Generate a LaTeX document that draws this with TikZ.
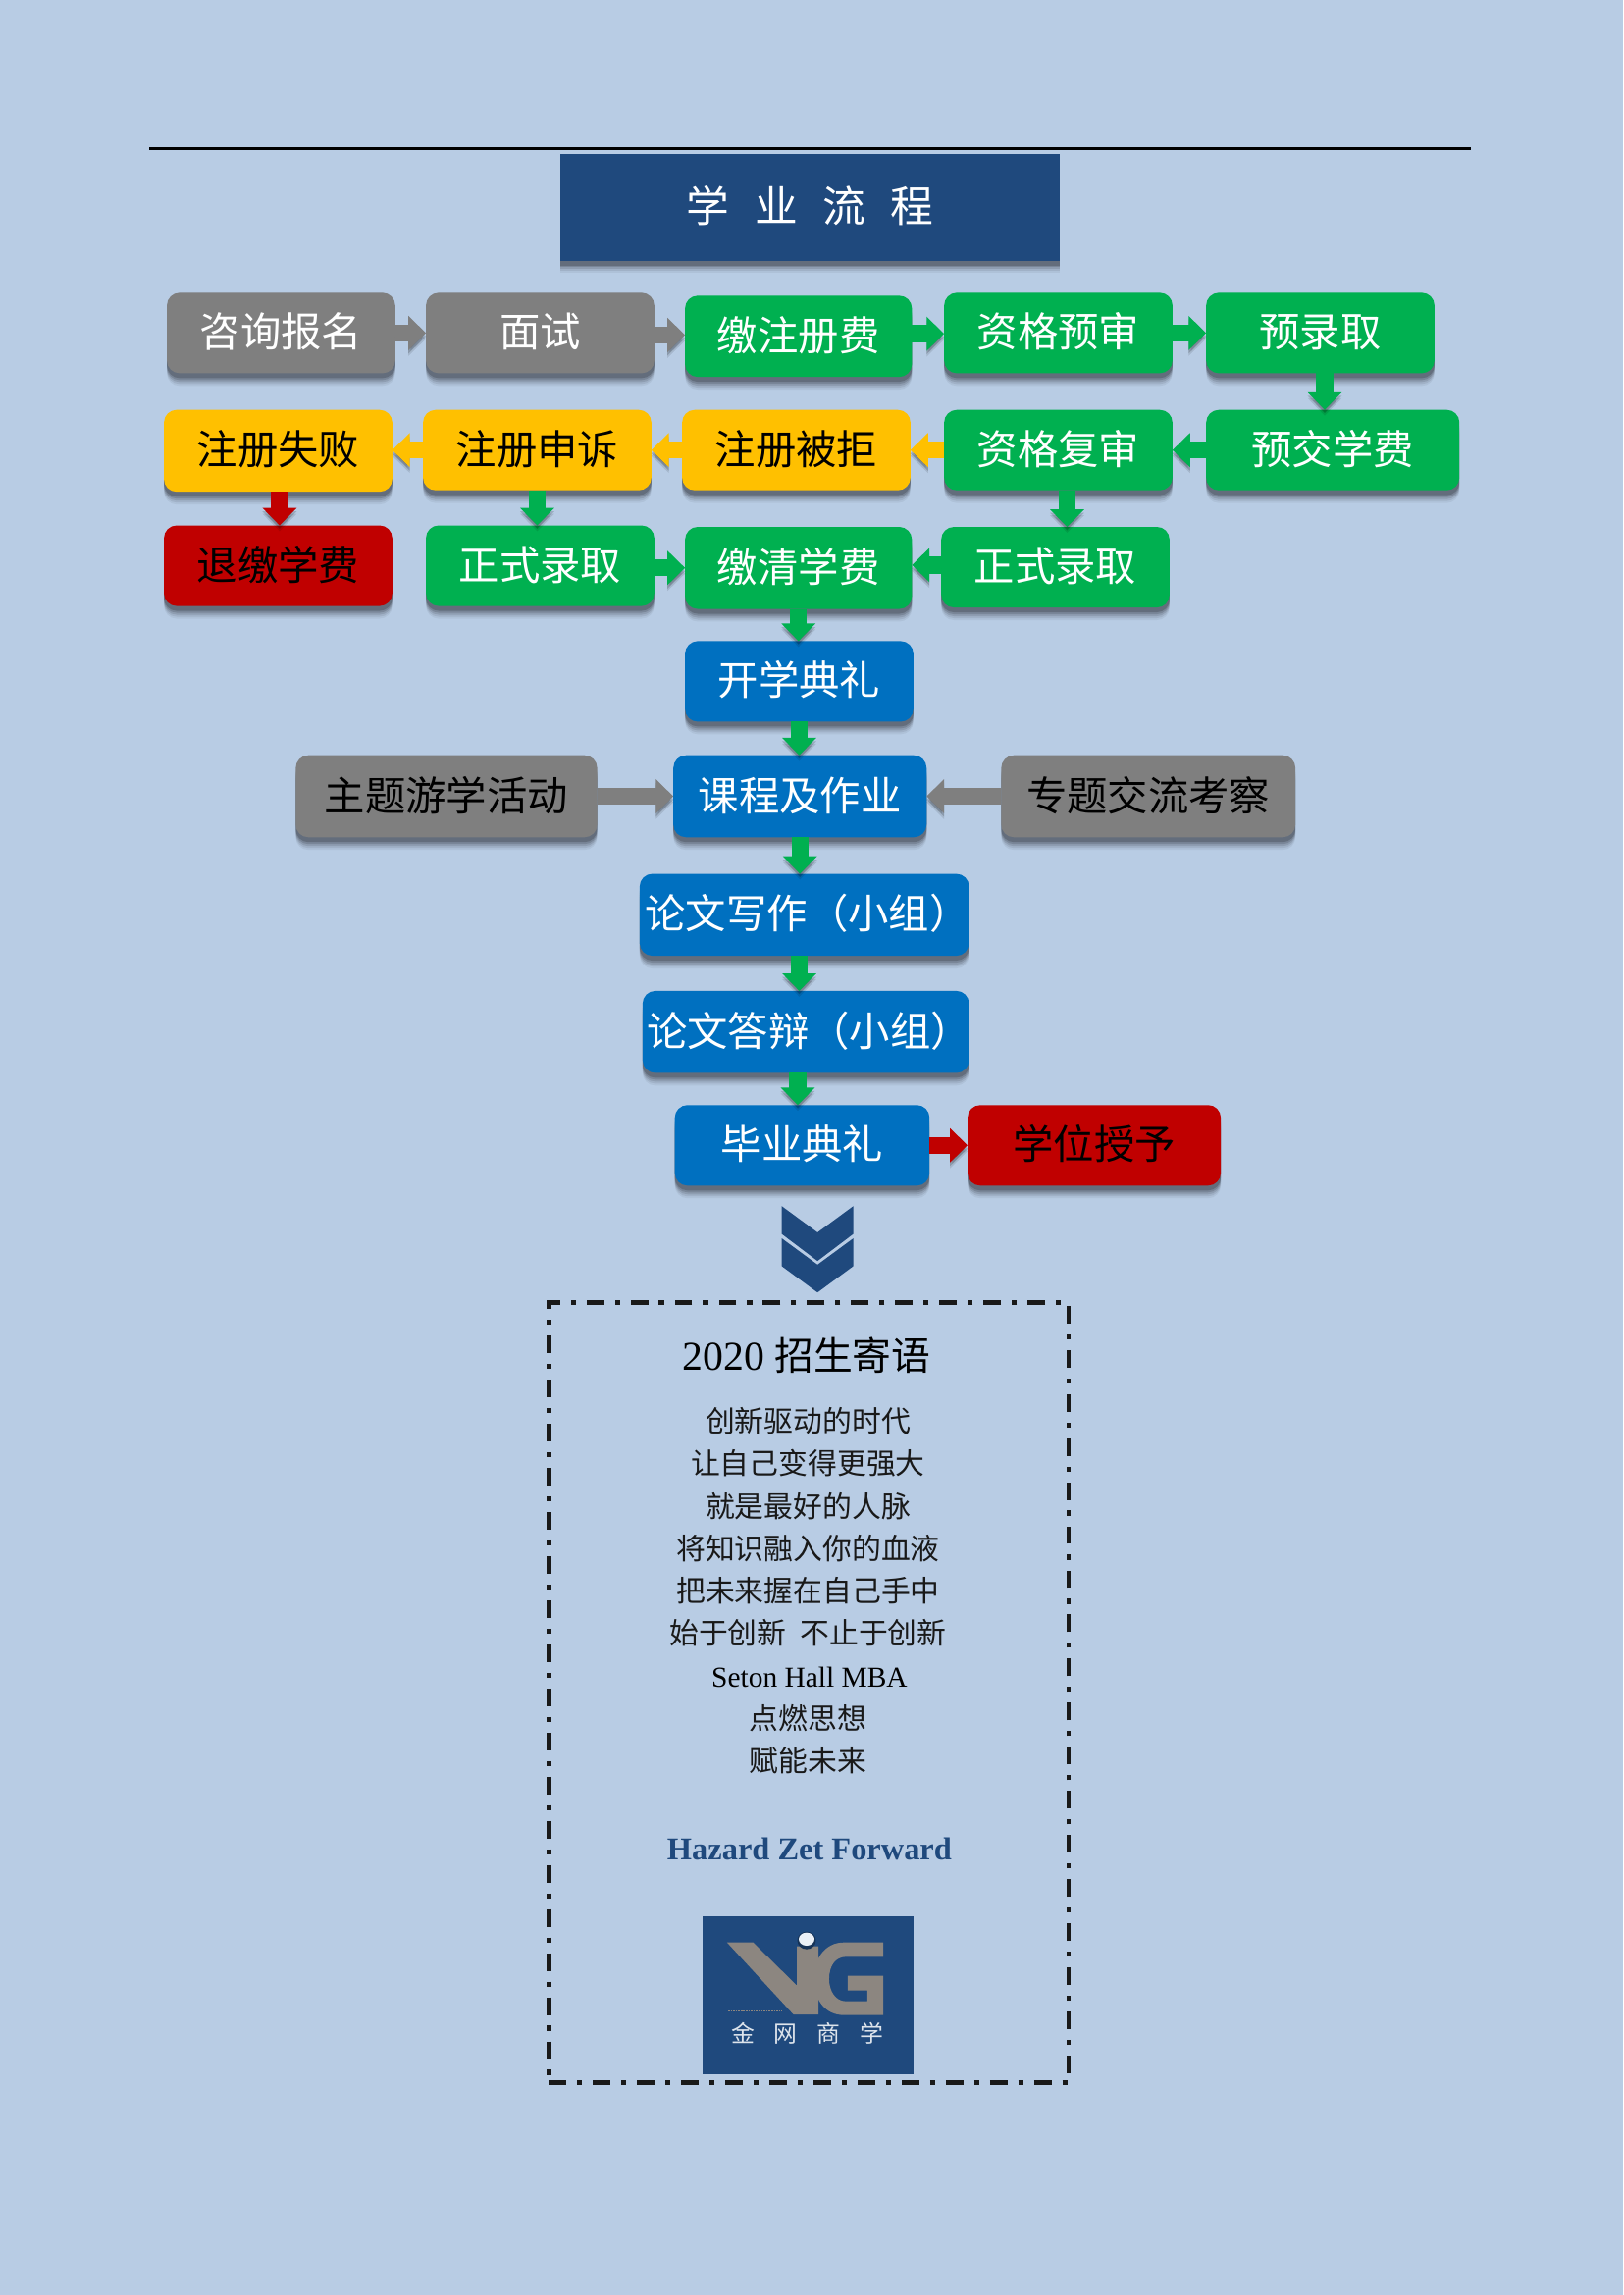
\documentclass[tikz,border=0pt]{standalone}
\usepackage{fontspec}
\setmainfont{Liberation Serif}
\newfontfamily\cjk{Noto Sans CJK SC}
\usetikzlibrary{arrows.meta,calc}
\definecolor{bgc}{HTML}{B8CCE4}
\definecolor{navy}{HTML}{1F497D}
\definecolor{gy}{HTML}{7F7F7F}
\definecolor{gn}{HTML}{00B050}
\definecolor{ye}{HTML}{FFC000}
\definecolor{rd}{HTML}{C00000}
\definecolor{bl}{HTML}{0070C0}
\definecolor{lgrey}{HTML}{8C8680}
\tikzset{
  softshadow/.style={
    preaction={fill=black,opacity=.05,transform canvas={yshift=-6.5pt}},
    preaction={fill=black,opacity=.08,transform canvas={yshift=-5.5pt}},
    preaction={fill=black,opacity=.11,transform canvas={yshift=-4.5pt}},
    preaction={fill=black,opacity=.14,transform canvas={yshift=-3.5pt}},
    preaction={fill=black,opacity=.18,transform canvas={yshift=-2.5pt}}},
  flowbox/.style={softshadow,rounded corners=6.5pt,inner sep=0pt,outer sep=0pt,
    font=\cjk\fontsize{20.8}{24}\selectfont,text height=17pt,text depth=2.4pt,align=center},
  greybox/.style={flowbox,fill=gy,text=white},
  greyboxk/.style={flowbox,fill=gy,text=black},
  greenbox/.style={flowbox,fill=gn,text=white},
  yellowbox/.style={flowbox,fill=ye,text=black},
  redbox/.style={flowbox,fill=rd,text=black},
  bluebox/.style={flowbox,fill=bl,text=white},
  barrow/.style={draw=#1,line width=8.7pt,-{Triangle[length=9pt,width=17pt]},
    preaction={draw=black,opacity=.10,transform canvas={yshift=-3pt}},
    preaction={draw=black,opacity=.16,transform canvas={yshift=-1.8pt}}},
  poem/.style={font=\cjk\fontsize{15}{18}\selectfont,inner sep=0pt,text=black!90,text height=12.2pt,text depth=1pt},
}
\newcommand{\FB}[7]{\node[#2,minimum width={(#5-#3)*0.75pt},minimum height={(#6-#4)*0.75pt}] (#1) at ({(#3+#5)/2},{(#4+#6)/2}) {#7};}
\begin{document}
\begin{tikzpicture}[x=.75pt,y=-.75pt]
\fill[bgc] (0,0) rectangle (1109,1568);
\useasboundingbox (0,0) rectangle (1109,1568);
\coordinate (rulea) at (102,101.5);
\coordinate (ruleb) at (1005,101.5);
\draw[line width=1.5pt,black] (rulea) -- (ruleb);
\node[softshadow,fill=navy,text=white,inner sep=0pt,outer sep=0pt,minimum width=255.75pt,minimum height=54.75pt,
  font=\cjk\fontsize{22}{26}\selectfont,text height=18pt,text depth=2.6pt] (title) at (553.5,141.5)
  {学\hspace{12.8pt}业\hspace{12.8pt}流\hspace{12.8pt}程};
% row 1
\FB{zx}{greybox}{114}{200}{270}{255}{咨询报名}
\FB{ms}{greybox}{291}{200}{447}{255}{面试}
\FB{jz}{greenbox}{468}{202}{623}{257.5}{缴注册费}
\FB{zy}{greenbox}{645}{200}{801}{255}{资格预审}
\FB{yl}{greenbox}{824}{200}{980}{255}{预录取}
% row 2
\FB{yj}{greenbox}{824}{280}{997}{335}{预交学费}
\FB{zf}{greenbox}{645}{280}{801}{335}{资格复审}
\FB{bj}{yellowbox}{466}{280}{622}{335}{注册被拒}
\FB{ss}{yellowbox}{289}{280}{445}{335}{注册申诉}
\FB{sb}{yellowbox}{112}{280}{268}{336}{注册失败}
% row 3
\FB{tj}{redbox}{112}{359}{268}{414}{退缴学费}
\FB{lq}{greenbox}{291}{359}{447}{414}{正式录取}
\FB{jq}{greenbox}{468}{360}{623}{416}{缴清学费}
\FB{lr}{greenbox}{643}{360}{799}{415}{正式录取}
% column
\FB{kx}{bluebox}{468}{438}{624}{493}{开学典礼}
\FB{kc}{bluebox}{460}{516}{633}{572}{课程及作业}
\FB{zt}{greyboxk}{202}{516}{408}{572}{主题游学活动}
\FB{zj}{greyboxk}{684}{516}{885}{572}{专题交流考察}
\FB{lx}{bluebox}{437}{597}{662}{653}{\makebox[0pt]{\hspace{3.4pt}论文写作（小组）}}
\FB{ld}{bluebox}{439}{677}{662}{733}{\makebox[0pt]{\hspace{3.4pt}论文答辩（小组）}}
\FB{by}{bluebox}{461}{755}{635}{810}{毕业典礼}
\FB{xw}{redbox}{661}{755}{834}{810}{学位授予}
% connectors
\draw[barrow=gy] (zx.east) -- (zx.east -| ms.west);
\draw[barrow=gy] ([yshift=-1pt]ms.east) -- ([yshift=-1pt]ms.east -| jz.west);
\draw[barrow=gn] ([yshift=1.3pt]jz.east) -- ([yshift=1.3pt]jz.east -| zy.west);
\draw[barrow=gn] (zy.east) -- (zy.east -| yl.west);
\draw[barrow=gn] ([xshift=2.25pt]yl.south) -- ([xshift=2.25pt]yl.south |- yj.north);
\draw[barrow=gn] (yj.west) -- (yj.west -| zf.east);
\draw[barrow=ye] (zf.west) -- (zf.west -| bj.east);
\draw[barrow=ye] (bj.west) -- (bj.west -| ss.east);
\draw[barrow=ye] (ss.west) -- (ss.west -| sb.east);
\draw[barrow=rd] ([xshift=.75pt]sb.south) -- ([xshift=.75pt]sb.south |- tj.north);
\draw[barrow=gn] (ss.south) -- (ss.south |- lq.north);
\draw[barrow=gn] ([xshift=4.5pt]zf.south) -- ([xshift=4.5pt]zf.south |- lr.north);
\draw[barrow=gn] ([yshift=-1.1pt]lq.east) -- ([yshift=-1.1pt]lq.east -| jq.west);
\draw[barrow=gn] ([yshift=1.1pt]lr.west) -- ([yshift=1.1pt]lr.west -| jq.east);
\draw[barrow=gn] (jq.south) -- (jq.south |- kx.north);
\draw[barrow=gn] (kx.south) -- (kx.south |- kc.north);
\draw[barrow=gy] (zt.east) -- (zt.east -| kc.west);
\draw[barrow=gy] (zj.west) -- (zj.west -| kc.east);
\draw[barrow=gn] (kc.south) -- (kc.south |- lx.north);
\draw[barrow=gn] ([xshift=-2.6pt]lx.south) -- ([xshift=-2.6pt]lx.south |- ld.north);
\draw[barrow=gn] ([xshift=-4.1pt]ld.south) -- ([xshift=-4.1pt]ld.south |- by.north);
\draw[barrow=rd] (by.east) -- (by.east -| xw.west);
% chevrons
\fill[navy] (534,824) -- (558.5,842) -- (583,824) -- (583,843) -- (558.5,861.5) -- (534,843) -- cycle;
\fill[navy] (534,846) -- (558.5,864) -- (583,846) -- (583,865) -- (558.5,883) -- (534,865) -- cycle;
% frame
\node[draw=black!90,line width=2.3pt,dash pattern=on 9pt off 5.5pt on 2.6pt off 5.5pt,
  minimum width=266.25pt,minimum height=399.75pt,inner sep=0pt,outer sep=0pt] (frame) at (552.5,1156.5) {};
\node[inner sep=0pt,text=black,text height=16.4pt,text depth=2.2pt] (head) at (551,927)
  {\fontsize{21}{24}\selectfont 2020 {\cjk\fontsize{20}{24}\selectfont 招生寄语}};
\node[poem] (p1) at (552,971) {创新驱动的时代};
\node[poem] (p2) at (552,1000) {让自己变得更强大};
\node[poem] (p3) at (552,1029) {就是最好的人脉};
\node[poem] (p4) at (552,1058) {将知识融入你的血液};
\node[poem] (p5) at (552,1087) {把未来握在自己手中};
\node[poem] (p6) at (552,1116) {始于创新\hspace{7pt}不止于创新};
\node[inner sep=0pt,font=\fontsize{14.8}{18}\selectfont,text=black] (p7) at (553,1146) {Seton Hall MBA};
\node[poem] (p8) at (552,1174) {点燃思想};
\node[poem] (p9) at (552,1203) {赋能未来};
\node[inner sep=0pt,font=\bfseries\fontsize{16.3}{20}\selectfont,text=navy] (hz) at (553,1263) {Hazard Zet Forward};
% logo
\fill[navy] (480,1309) rectangle (624,1417);
\begin{scope}[shift={(362.05,1240.4)},x=.1829pt,y=-.1676pt]
  \fill[lgrey] (552,388) -- (625,388) -- (748,520) -- (748,400) -- (808,400) -- (808,608) -- (738,608) -- cycle;
  \fill[lgrey] (990,388) -- (880,388) .. controls (825,388) and (795,440) .. (795,500)
    .. controls (795,560) and (825,610) .. (880,610) -- (990,610) -- (990,490) -- (890,490) -- (890,535)
    -- (945,535) -- (945,568) -- (885,568) .. controls (855,568) and (838,535) .. (838,500)
    .. controls (838,460) and (855,432) .. (885,432) -- (990,432) -- cycle;
  \fill[navy!70!black] (775,382) ellipse [x radius=26,y radius=27];
  \fill[white!70!bgc] (775,378) ellipse [x radius=22,y radius=20];
  \draw[lgrey,line width=.7pt,dash pattern=on .8pt off .5pt] (555,597) -- (705,597);
\end{scope}
\node[inner sep=0pt,font=\cjk\fontsize{12}{14}\selectfont,text=white!85!navy] (logotxt) at (551.5,1389.5)
  {金\hspace{10pt}网\hspace{10pt}商\hspace{10pt}学};
\end{tikzpicture}
\end{document}
